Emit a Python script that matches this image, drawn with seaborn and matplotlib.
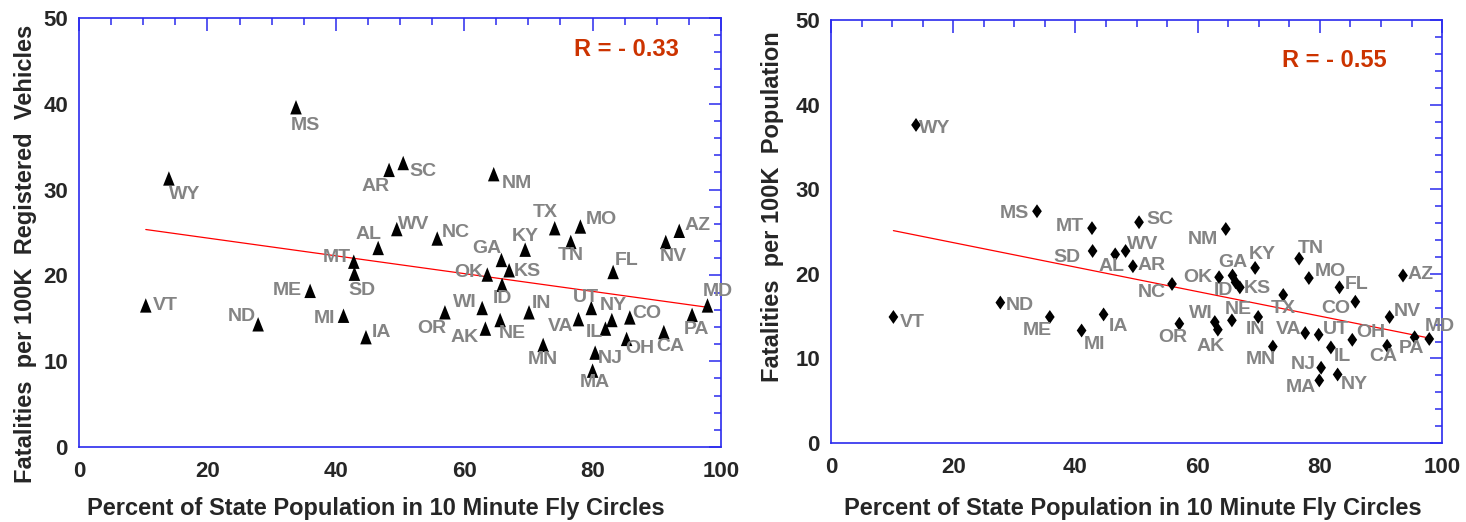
import matplotlib
matplotlib.use("Agg")
import matplotlib.pyplot as plt
import seaborn as sns
import pandas as pd
from matplotlib.markers import MarkerStyle
from matplotlib.ticker import MultipleLocator


states = ["MS", "WY", "AR", "AL", "MT", "WV", "SC", "NM", "NC", "TX", "MO", "TN", "KY", "GA",
          "AZ", "NV", "VT", "ND", "ME", "MI", "IA", "SD", "OK", "KS", "ID", "FL", "MD", "OR",
          "WI", "AK", "NE", "IN", "VA", "UT", "NY", "IL", "CO", "OH", "CA", "PA", "MN", "NJ", "MA"]

# left panel: fatalities per 100K registered vehicles
pct_left = [33.8, 14.0, 48.3, 46.6, 42.8, 49.5, 50.5, 64.6, 55.8, 74.1, 78.1, 76.6, 69.5, 65.8,
            93.5, 91.4, 10.4, 27.9, 36.0, 41.2, 44.7, 42.9, 63.6, 67.0, 65.9, 83.2, 97.9, 57.0,
            62.8, 63.3, 65.6, 70.1, 77.8, 79.8, 83.0, 82.0, 85.8, 85.3, 91.1, 95.5, 72.3, 80.4, 80.0]
veh_left = [39.6, 31.3, 32.3, 23.2, 21.6, 25.4, 33.1, 31.8, 24.3, 25.5, 25.7, 23.9, 23.0, 21.8,
            25.2, 23.9, 16.5, 14.3, 18.2, 15.3, 12.8, 20.2, 20.1, 20.6, 18.9, 20.4, 16.5, 15.7,
            16.2, 13.8, 14.8, 15.7, 14.9, 16.2, 14.8, 13.8, 15.1, 12.6, 13.4, 15.4, 11.9, 11.0, 8.9]

# right panel: fatalities per 100K population
pct_right = [33.7, 13.9, 49.4, 46.5, 42.7, 48.2, 50.4, 64.6, 55.8, 74.0, 78.2, 76.6, 69.4, 65.7,
             93.6, 91.4, 10.2, 27.7, 35.8, 41.0, 44.6, 42.8, 63.5, 66.9, 66.2, 83.2, 97.9, 57.0,
             62.8, 63.3, 65.6, 69.9, 77.6, 79.8, 82.9, 81.8, 85.8, 85.3, 91.0, 95.5, 72.3, 80.2, 79.9]
pop_right = [27.4, 37.6, 20.9, 22.3, 25.4, 22.7, 26.1, 25.3, 18.8, 17.5, 19.5, 21.8, 20.7, 19.8,
             19.8, 14.9, 14.9, 16.6, 14.9, 13.3, 15.2, 22.7, 19.6, 18.4, 19.0, 18.4, 12.3, 14.1,
             14.3, 13.4, 14.5, 14.9, 13.0, 12.8, 8.1, 11.3, 16.7, 12.2, 11.5, 12.5, 11.4, 8.9, 7.4]

r_left = "R = - 0.33"
r_right = "R = - 0.55"
x_title = "Percent of State Population in 10 Minute Fly Circles"
y_title_left = "Fatalities  per 100K  Registered  Vehicles"
y_title_right = "Fatalities  per 100K  Population"

# label placement, pixels (right, down) from the marker
offs_left = {
    "MS": (9, 18), "WY": (16, 16), "AR": (-14, 17), "AL": (-10, -13), "MT": (-17, -4),
    "WV": (17, -5), "SC": (20, 8), "NM": (23, 9), "NC": (19, -6), "TX": (-9, -16),
    "MO": (21, -7), "TN": (0, 14), "KY": (0, -13), "GA": (-15, -11), "AZ": (18, -5),
    "NV": (8, 15), "FL": (13, -11), "VT": (20, 0), "ND": (-16, -8), "ME": (-23, 0),
    "MI": (-19, 3), "IA": (16, -5), "SD": (8, 17), "OK": (-18, -2), "KS": (18, 1),
    "ID": (0, 14), "MD": (10, -14), "OR": (-13, 16), "WI": (-17, -5), "AK": (-21, 9),
    "NE": (12, 13), "IN": (12, -9), "VA": (-18, 7), "UT": (-5, -10), "NY": (1, -15),
    "IL": (-11, 4), "CO": (17, -4), "OH": (13, 10), "CA": (6, 14), "PA": (4, 15),
    "MN": (0, 15), "NJ": (15, 6), "MA": (2, 12),
}
offs_right = {
    "WY": (19, 4), "MS": (-23, 2), "MT": (-22, -2), "SD": (-26, 7), "AL": (-4, 12),
    "WV": (17, -6), "SC": (21, -3), "AR": (19, -1), "NM": (-23, 11), "TN": (12, -10),
    "KY": (7, -13), "GA": (0, -13), "OK": (-21, 0), "ID": (-12, 8), "KS": (17, 1),
    "NC": (-20, 9), "TX": (0, 14), "MO": (21, -7), "FL": (17, -3), "CO": (-20, 7),
    "AZ": (18, -1), "NV": (18, -5), "OR": (-7, 14), "WI": (-14, -9), "AK": (-7, 17),
    "NE": (6, -11), "IN": (-3, 13), "VA": (-17, -4), "UT": (17, -5), "IL": (11, 9),
    "OH": (19, -7), "CA": (-4, 11), "PA": (-3, 11), "MD": (11, -12), "MN": (-12, 13),
    "NJ": (-18, -3), "MA": (-18, 7), "NY": (17, 10), "VT": (19, 6), "ND": (19, 3),
    "ME": (-13, 14), "MI": (13, 14), "IA": (15, 12),
}

spine_blue = "#2a2aee"
label_gray = "#848484"

# slightly tall triangle and diamond, like the original symbols
tri = MarkerStyle([(0, 1), (-0.8, -1), (0.8, -1)])
dia = MarkerStyle([(0, 1), (0.7, 0), (0, -1), (-0.7, 0)])


def draw_panel(ax, x, y, offsets, marker, size, ylabel, r_text, r_xy, ylab_pos, xlab_pos):
    df = pd.DataFrame({"state": states, "x": x, "y": y})
    sns.regplot(data=df, x="x", y="y", ax=ax, scatter=False, ci=None,
                line_kws={"color": "red", "lw": 0.9})
    sns.scatterplot(data=df, x="x", y="y", ax=ax, marker=marker, s=size,
                    color="black", edgecolor="none", zorder=3)
    for st, xv, yv in zip(df["state"], df["x"], df["y"]):
        dx, dy = offsets[st]
        ax.annotate(st, (xv, yv), xytext=(dx, -dy), textcoords="offset pixels",
                    ha="center", va="center", fontsize=14, fontweight="bold",
                    color=label_gray)

    ax.set_xlim(0, 100)
    ax.set_ylim(0, 50)
    ax.xaxis.set_major_locator(MultipleLocator(20))
    ax.xaxis.set_minor_locator(MultipleLocator(5))
    ax.yaxis.set_major_locator(MultipleLocator(10))
    ax.yaxis.set_minor_locator(MultipleLocator(2))
    ax.tick_params(which="both", direction="in", top=True, right=True,
                   color=spine_blue, width=1.1)
    ax.tick_params(which="major", length=9, labelsize=16)
    ax.tick_params(which="minor", length=5)
    ax.tick_params(axis="x", which="major", pad=10)
    ax.tick_params(axis="y", which="major", pad=8)
    for lab in ax.get_xticklabels() + ax.get_yticklabels():
        lab.set_fontweight("bold")
    for sp in ax.spines.values():
        sp.set_color(spine_blue)
        sp.set_linewidth(1.2)

    ax.set_xlabel(x_title, fontsize=17, fontweight="bold")
    ax.set_ylabel(ylabel, fontsize=17, fontweight="bold")
    ax.xaxis.set_label_coords(*xlab_pos)
    ax.yaxis.set_label_coords(*ylab_pos)
    ax.text(r_xy[0], r_xy[1], r_text, ha="center", va="center", fontsize=17,
            fontweight="bold", color="#cc3300")
    ax.grid(False)


def main():
    sns.set_theme(style="white")
    plt.rcParams["font.family"] = ["Liberation Sans", "DejaVu Sans"]

    fig = plt.figure(figsize=(14.66, 5.22), dpi=100)
    ax1 = fig.add_axes([0.0539, 0.1437, 0.4379, 0.8218])
    ax2 = fig.add_axes([0.5669, 0.1513, 0.4168, 0.8103])

    draw_panel(ax1, pct_left, veh_left, offs_left, tri, 108, y_title_left,
               r_left, (85.2, 46.3), (-0.066, 0.45), (0.463, -0.117))
    draw_panel(ax2, pct_right, pop_right, offs_right, dia, 100, y_title_right,
               r_right, (82.3, 45.2), (-0.077, 0.56), (0.493, -0.128))

    fig.savefig("out.png", dpi=100)
    plt.close(fig)


main()
